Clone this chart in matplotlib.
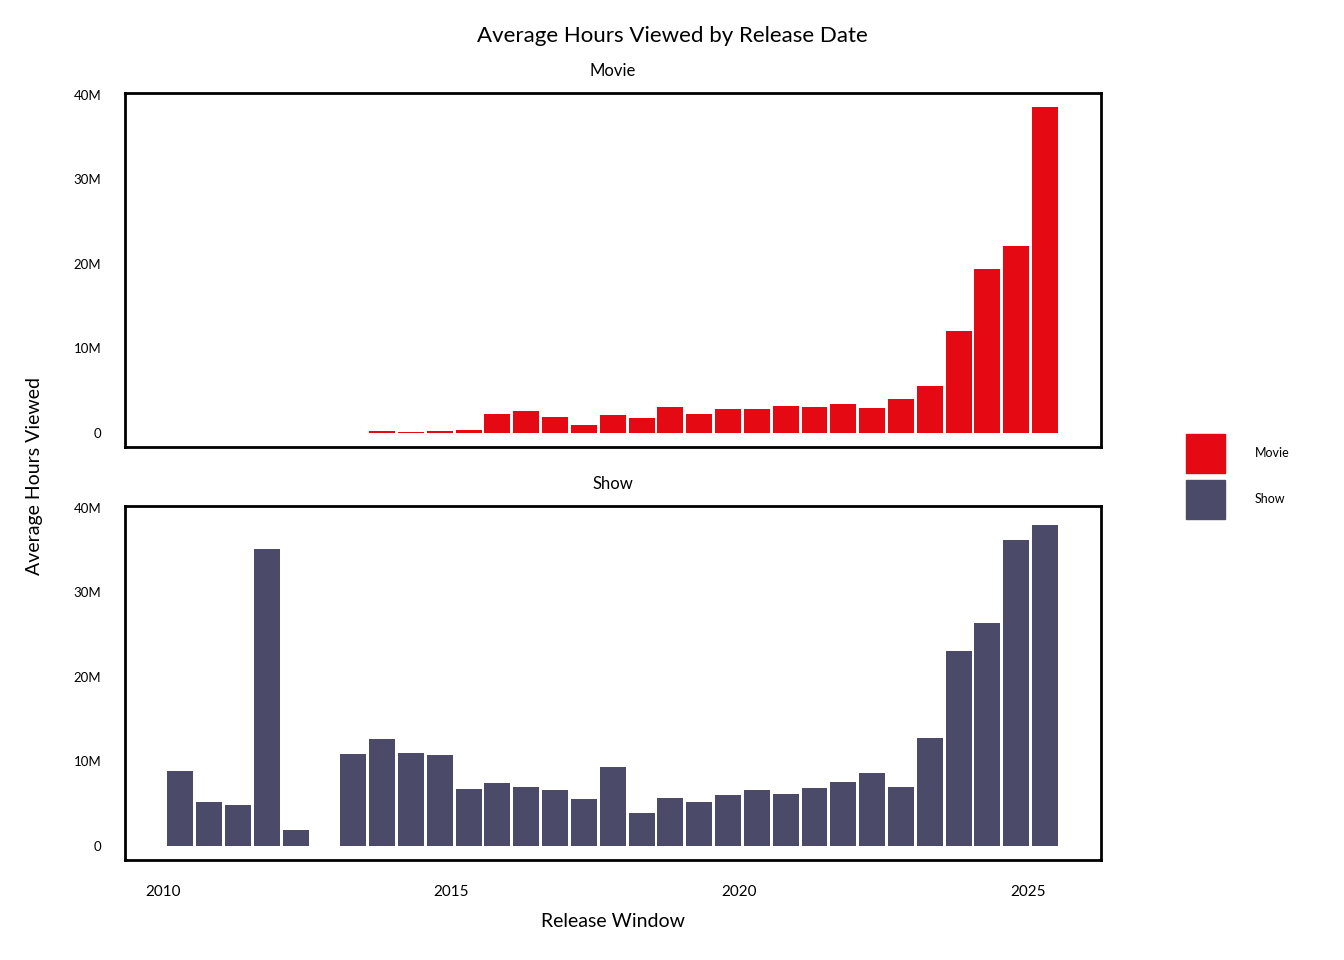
import numpy as np
import matplotlib
matplotlib.use("Agg")
import matplotlib.pyplot as plt
from matplotlib.patches import Patch
from matplotlib.ticker import FuncFormatter

plt.rcParams['font.family'] = ['Lato', 'DejaVu Sans']

# release windows (half years), H1 / H2
windows = ["2010 H1", "2010 H2", "2011 H1", "2011 H2", "2012 H1", "2012 H2",
           "2013 H1", "2013 H2", "2014 H1", "2014 H2", "2015 H1", "2015 H2",
           "2016 H1", "2016 H2", "2017 H1", "2017 H2", "2018 H1", "2018 H2",
           "2019 H1", "2019 H2", "2020 H1", "2020 H2", "2021 H1", "2021 H2",
           "2022 H1", "2022 H2", "2023 H1", "2023 H2", "2024 H1", "2024 H2",
           "2025 H1"]

# average hours viewed, millions (nan = no titles)
movie = [np.nan, np.nan, np.nan, np.nan, np.nan, np.nan,
         np.nan, 0.25, 0.1, 0.2, 0.35, 2.25,
         2.6, 1.9, 0.95, 2.1, 1.8, 3.1,
         2.25, 2.85, 2.85, 3.2, 3.1, 3.4,
         2.95, 4.0, 5.55, 12.1, 19.4, 22.1,
         38.5]
show = [8.9, 5.2, 4.85, 35.1, 1.9, np.nan,
        10.9, 12.7, 11.0, 10.8, 6.75, 7.45,
        7.0, 6.6, 5.6, 9.35, 3.9, 5.7,
        5.2, 6.0, 6.6, 6.15, 6.9, 7.6,
        8.6, 7.0, 12.8, 23.0, 26.4, 36.2,
        37.9]

colors = {"Movie": "#E50914", "Show": "#4B4B69"}

def win_pos(w):
    y, h = w.split()
    return int(y) + 0.3 + (0.5 if h == "H2" else 0.0)

x = np.array([win_pos(w) for w in windows])

fig = plt.figure(figsize=(13.44, 9.6), dpi=100)
W, H = 1344, 960
ax1 = fig.add_axes([125 / W, 1 - 447 / H, 976 / W, 354 / H])
ax2 = fig.add_axes([125 / W, 1 - 860 / H, 976 / W, 354 / H])

fmt = FuncFormatter(lambda v, p: "0" if v == 0 else "%dM" % round(v / 1e6))

for ax, name, vals in [(ax1, "Movie", movie), (ax2, "Show", show)]:
    v = np.array(vals) * 1e6
    ax.bar(x, v, width=0.45, color=colors[name])
    ax.set_xlim(2009.34, 2026.27)
    ax.set_ylim(-1.66e6, 40.2e6)
    ax.set_yticks([0, 10e6, 20e6, 30e6, 40e6])
    ax.yaxis.set_major_formatter(fmt)
    ax.tick_params(axis='y', length=0, pad=17, labelsize=9.5)
    ax.tick_params(axis='x', length=0, pad=18, labelsize=11)
    for s in ax.spines.values():
        s.set_linewidth(2)
        s.set_color("black")
    ax.set_title(name, fontsize=12, pad=12)

ax1.set_xticks([])
ax2.set_xticks([2010, 2015, 2020, 2025])
ax2.set_xlabel("Release Window", fontsize=14, labelpad=10)

fig.text(0.5, 1 - 36 / H, "Average Hours Viewed by Release Date",
         ha='center', va='center', fontsize=16)
fig.text(35 / W, 1 - 476 / H, "Average Hours Viewed", rotation=90,
         ha='center', va='center', fontsize=14)

handles = [Patch(color=colors["Movie"], label="Movie"),
           Patch(color=colors["Show"], label="Show")]
fig.legend(handles=handles, loc='upper left', bbox_to_anchor=(1186 / W, 1 - 434 / H),
           frameon=False, fontsize=9, handlelength=3.1, handleheight=4.43,
           handletextpad=2.4, labelspacing=0.56, borderpad=0, borderaxespad=0)

fig.savefig("out.png", dpi=100)
